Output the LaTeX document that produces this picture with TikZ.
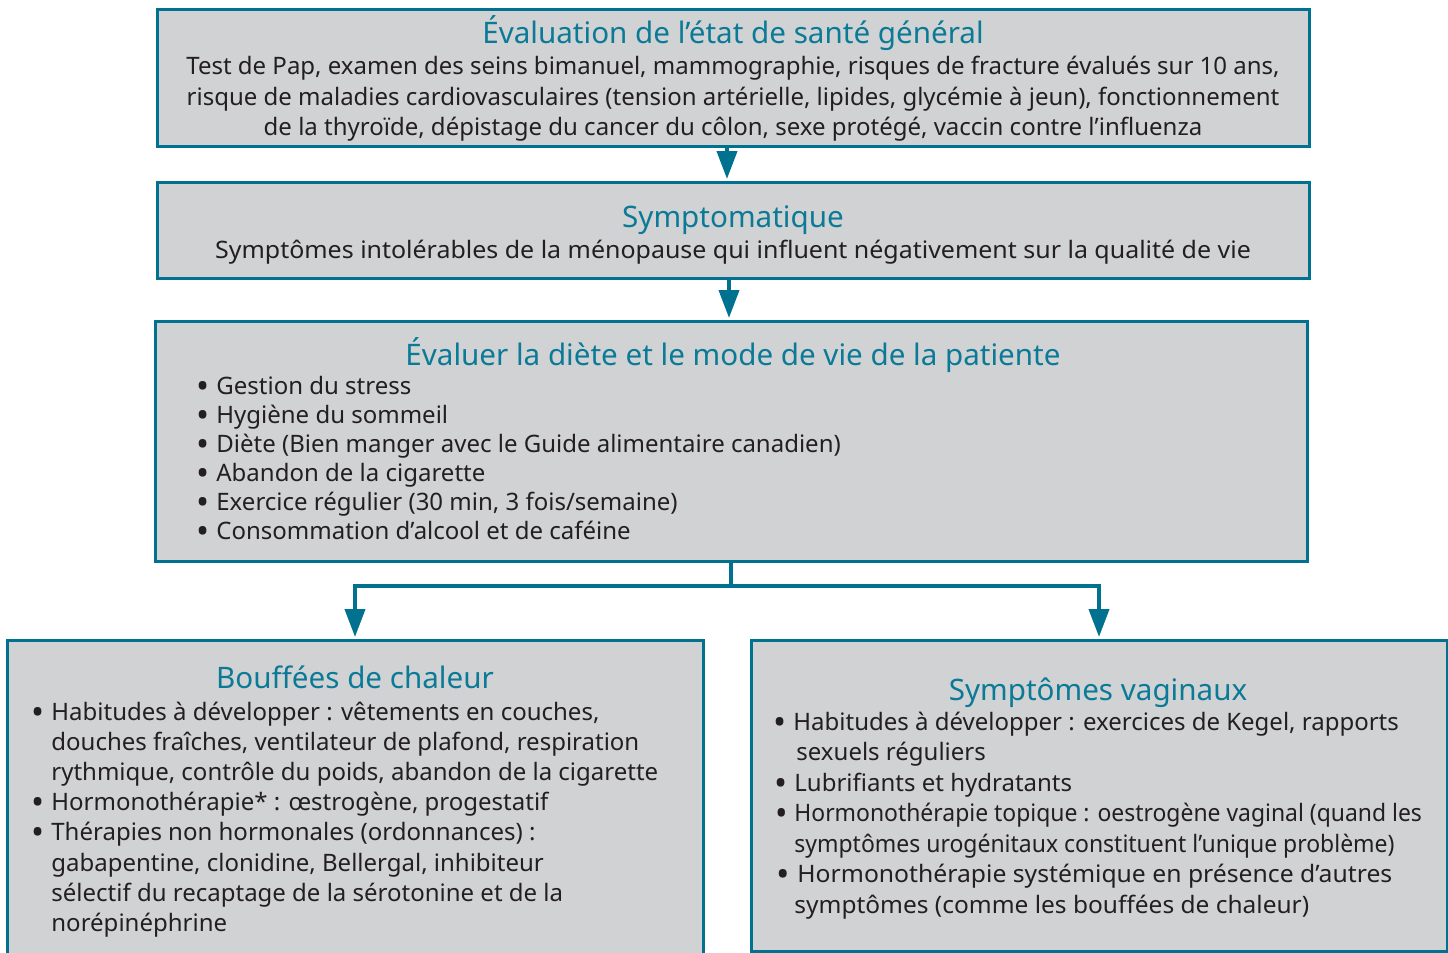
\documentclass[tikz,border=0pt]{standalone}
\usepackage{fontspec}
\setmainfont{Noto Sans}
\usetikzlibrary{arrows.meta}
\definecolor{flowteal}{HTML}{00728F}
\definecolor{titleteal}{HTML}{0A7A97}
\definecolor{boxgray}{HTML}{D1D2D4}
\definecolor{textdark}{HTML}{231F20}
\newcommand{\bul}{\makebox[0pt][r]{\raisebox{-2pt}{\scalebox{1.45}{\textbullet}}\hspace{3.5pt}}}
\tikzset{
  box/.style={draw=flowteal, line width=1.5pt, fill=boxgray, anchor=north west, inner sep=0pt, outer sep=0pt},
  title/.style={text=titleteal, font=\fontsize{14.8}{17}\selectfont, anchor=base, inner sep=0pt},
  txt/.style={text=textdark, font=\fontsize{12}{15}\selectfont, anchor=base, inner sep=0pt,
    text height=8.5pt, text depth=2.5pt},
  txtl/.style={txt, anchor=base west},
  link/.style={draw=flowteal, line width=2pt},
  flow/.style={link, -{Triangle[width=10pt,length=14pt]}, shorten >=1.5pt},
}
\begin{document}
\begin{tikzpicture}[x=0.5pt,y=-0.5pt]
  \useasboundingbox (0,0) rectangle (1448,953);
  \clip (0,0) rectangle (1448,953);
  % boxes
  \node[box, minimum width=576pt, minimum height=68.5pt] (eval) at (157,9) {};
  \node[box, minimum width=576pt, minimum height=48pt] (sympt) at (157,182) {};
  \node[box, minimum width=576pt, minimum height=120pt] (diet) at (155,321) {};
  \node[box, minimum width=348pt, minimum height=165pt] (hot) at (7,640) {};
  \node[box, minimum width=348pt, minimum height=155.5pt] (vag) at (751,640) {};
  % connectors
  \draw[flow] ([xshift=-3pt]eval.south) -- ([xshift=-3pt]eval.south |- sympt.north);
  \draw[flow] ([xshift=-2pt]sympt.south) -- ([xshift=-2pt]sympt.south |- diet.north);
  \coordinate (split) at (731,586);
  \draw[link] (diet.south) -- (split);
  \draw[flow] (split) -| (hot.north);
  \draw[flow] (split) -| (vag.north);
  % box 1
  \node[title] (eval-t) at (733,43) {Évaluation de l’état de santé général};
  \foreach \ln [count=\i from 0] in {%
    {Test de Pap, examen des seins bimanuel, mammographie, risques de fracture évalués sur 10 ans,},
    {risque de maladies cardiovasculaires (tension artérielle, lipides, glycémie à jeun), fonctionnement},
    {de la thyroïde, dépistage du cancer du côlon, sexe protégé, vaccin contre l’influenza}}
    \node[txt] (eval-\i) at (733,{75+30*\i}) {\ln};
  % box 2
  \node[title] (sympt-t) at (733,227) {Symptomatique};
  \node[txt] (sympt-0) at (733,258) {\scalebox{1.04}[1]{Symptômes intolérables de la ménopause qui influent négativement sur la qualité de vie}};
  % box 3
  \node[title] (diet-t) at (733,365) {Évaluer la diète et le mode de vie de la patiente};
  \foreach \ln [count=\i from 0] in {%
    {Gestion du stress},
    {Hygiène du sommeil},
    {Diète (Bien manger avec le Guide alimentaire canadien)},
    {Abandon de la cigarette},
    {Exercice régulier (30 min, 3 fois/semaine)},
    {Consommation d’alcool et de caféine}}
    \node[txtl] (diet-\i) at (216,{394+29*\i}) {\bul\ln};
  % box 4
  \node[title] (hot-t) at (355,688) {Bouffées de chaleur};
  \foreach \ln [count=\i from 0] in {%
    {\bul Habitudes à développer : vêtements en couches,},
    {douches fraîches, ventilateur de plafond, respiration},
    {rythmique, contrôle du poids, abandon de la cigarette},
    {\bul Hormonothérapie* : œstrogène, progestatif},
    {\bul Thérapies non hormonales (ordonnances) :},
    {gabapentine, clonidine, Bellergal, inhibiteur},
    {sélectif du recaptage de la sérotonine et de la},
    {norépinéphrine}}
    \node[txtl] (hot-\i) at (51,{720+30.2*\i}) {\ln};
  % box 5 (x, horizontal squeeze, line)
  \node[title] (vag-t) at (1098,700) {Symptômes vaginaux};
  \foreach \x/\s/\ln [count=\i from 0] in {%
    793/1/{\bul Habitudes à développer : exercices de Kegel, rapports},
    796/1/{sexuels réguliers},
    794/1/{\bul Lubrifiants et hydratants},
    794/0.955/{\bul Hormonothérapie topique : oestrogène vaginal (quand les},
    794/0.957/{symptômes urogénitaux constituent l’unique problème)},
    797/1.03/{\bul Hormonothérapie systémique en présence d’autres},
    794/1.02/{symptômes (comme les bouffées de chaleur)}}
    \node[txtl] (vag-\i) at (\x,{730+30.5*\i}) {\scalebox{\s}[1]{\ln}};
\end{tikzpicture}
\end{document}
